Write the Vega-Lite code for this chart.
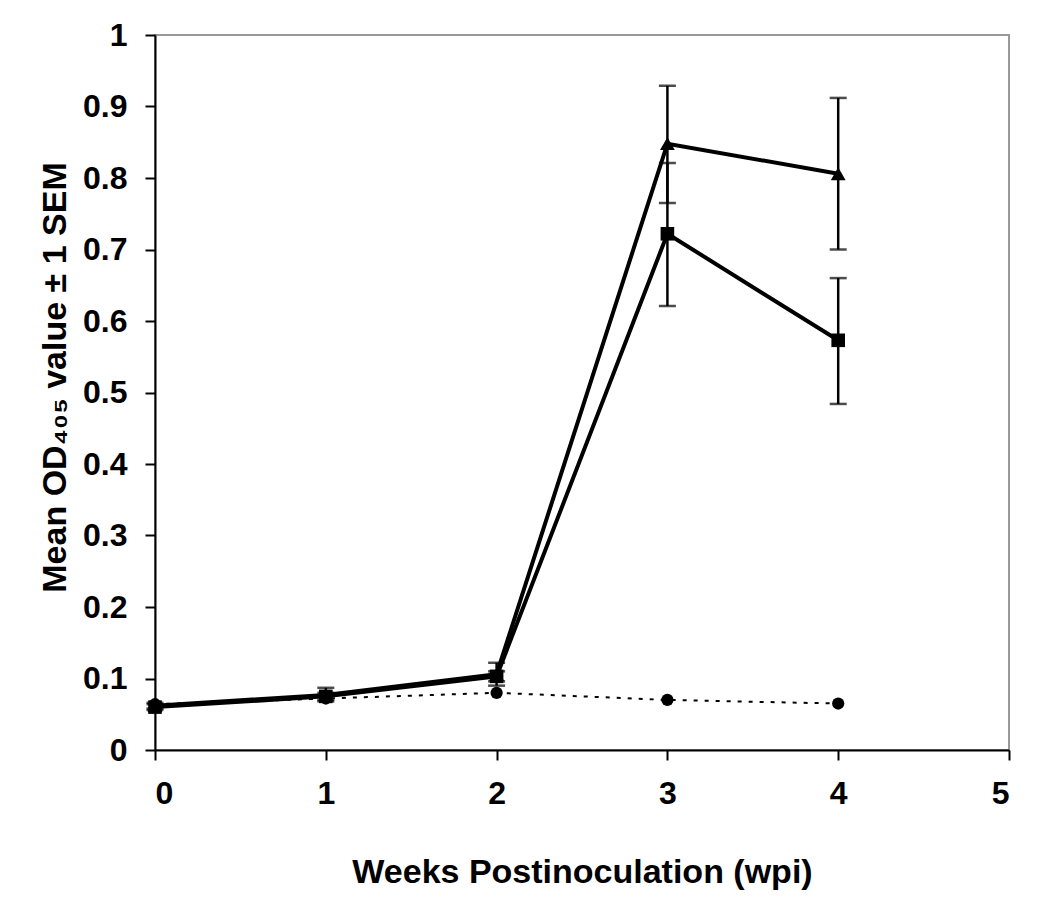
{
  "$schema": "https://vega.github.io/schema/vega-lite/v6.json",
  "width": 854,
  "height": 715,
  "autosize": {"type": "none"},
  "padding": {"left": 155, "top": 35, "right": 41, "bottom": 162},
  "background": "white",
  "config": {
    "view": {"stroke": "#999999", "strokeWidth": 2},
    "font": "Liberation Sans"
  },
  "data": {
    "values": [
      {"wpi": 0, "group": "triangle", "mean": 0.062, "lo": 0.058, "hi": 0.066},
      {"wpi": 1, "group": "triangle", "mean": 0.077, "lo": 0.068, "hi": 0.087},
      {"wpi": 2, "group": "triangle", "mean": 0.106, "lo": 0.090, "hi": 0.122},
      {"wpi": 3, "group": "triangle", "mean": 0.848, "lo": 0.765, "hi": 0.929},
      {"wpi": 4, "group": "triangle", "mean": 0.806, "lo": 0.700, "hi": 0.912},
      {"wpi": 0, "group": "square", "mean": 0.060, "lo": 0.056, "hi": 0.064},
      {"wpi": 1, "group": "square", "mean": 0.075, "lo": 0.070, "hi": 0.080},
      {"wpi": 2, "group": "square", "mean": 0.103, "lo": 0.096, "hi": 0.110},
      {"wpi": 3, "group": "square", "mean": 0.722, "lo": 0.621, "hi": 0.821},
      {"wpi": 4, "group": "square", "mean": 0.573, "lo": 0.484, "hi": 0.660},
      {"wpi": 0, "group": "circle", "mean": 0.064},
      {"wpi": 1, "group": "circle", "mean": 0.072},
      {"wpi": 2, "group": "circle", "mean": 0.080},
      {"wpi": 3, "group": "circle", "mean": 0.070},
      {"wpi": 4, "group": "circle", "mean": 0.065}
    ]
  },
  "encoding": {
    "x": {
      "field": "wpi", "type": "quantitative",
      "scale": {"domain": [0, 5], "nice": false},
      "axis": {
        "title": "Weeks Postinoculation (wpi)",
        "values": [0, 1, 2, 3, 4, 5], "format": "d",
        "grid": false, "domainColor": "black", "domainWidth": 2,
        "tickColor": "black", "tickWidth": 2, "tickSize": 10,
        "labelFont": "Liberation Sans", "labelFontSize": 32, "labelFontWeight": "bold", "labelColor": "black",
        "labelPadding": 18,
        "titleFont": "Liberation Sans", "titleFontSize": 34, "titleFontWeight": "bold", "titleColor": "black",
        "titlePadding": 46
      }
    },
    "y": {
      "field": "mean", "type": "quantitative",
      "scale": {"domain": [0, 1], "nice": false},
      "axis": {
        "title": "Mean OD₄₀₅ value ± 1 SEM",
        "values": [0, 0.1, 0.2, 0.3, 0.4, 0.5, 0.6, 0.7, 0.8, 0.9, 1], "format": ".1~f",
        "grid": false, "domainColor": "black", "domainWidth": 2,
        "tickColor": "black", "tickWidth": 2, "tickSize": 10,
        "labelFont": "Liberation Sans", "labelFontSize": 32, "labelFontWeight": "bold", "labelColor": "black",
        "labelPadding": 18,
        "titleFont": "Liberation Sans", "titleFontSize": 34, "titleFontWeight": "bold", "titleColor": "black",
        "titlePadding": 10,
        "titleY": 342
      }
    }
  },
  "layer": [
    {
      "transform": [{"filter": "datum.lo != null"}],
      "mark": {"type": "rule", "color": "black", "strokeWidth": 2.5},
      "encoding": {"y": {"field": "lo", "type": "quantitative"}, "y2": {"field": "hi"}}
    },
    {
      "transform": [{"filter": "datum.lo != null"}],
      "mark": {"type": "tick", "orient": "horizontal", "color": "black", "size": 17, "thickness": 2.5},
      "encoding": {"y": {"field": "lo", "type": "quantitative"}}
    },
    {
      "transform": [{"filter": "datum.hi != null"}],
      "mark": {"type": "tick", "orient": "horizontal", "color": "black", "size": 17, "thickness": 2.5},
      "encoding": {"y": {"field": "hi", "type": "quantitative"}}
    },
    {
      "transform": [{"filter": "datum.group == 'circle'"}],
      "mark": {"type": "line", "color": "black", "strokeWidth": 2, "strokeDash": [4, 7]},
      "encoding": {}
    },
    {
      "transform": [{"filter": "datum.group == 'square'"}],
      "mark": {"type": "line", "color": "black", "strokeWidth": 4},
      "encoding": {}
    },
    {
      "transform": [{"filter": "datum.group == 'triangle'"}],
      "mark": {"type": "line", "color": "black", "strokeWidth": 4},
      "encoding": {}
    },
    {
      "mark": {"type": "point", "filled": true, "color": "black", "opacity": 1},
      "encoding": {
        "shape": {
          "field": "group", "type": "nominal",
          "scale": {"domain": ["triangle", "square", "circle"], "range": ["triangle-up", "square", "circle"]},
          "legend": null
        },
        "size": {
          "field": "group", "type": "nominal",
          "scale": {"domain": ["triangle", "square", "circle"], "range": [220, 150, 90]},
          "legend": null
        }
      }
    }
  ]
}
